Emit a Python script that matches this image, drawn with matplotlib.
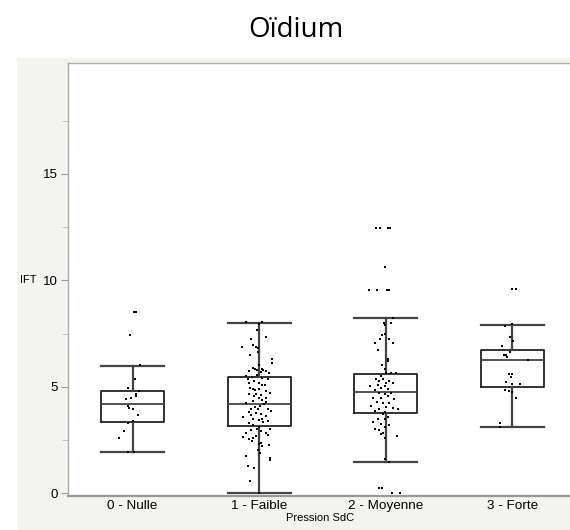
import numpy as np
import matplotlib
matplotlib.use("Agg")
import matplotlib.pyplot as plt
from matplotlib.patches import Rectangle

categories = ["0 - Nulle", "1 - Faible", "2 - Moyenne", "3 - Forte"]

# box statistics: (low whisker, q1, median, q3, high whisker)
box_low = [1.93, 0.0, 1.46, 3.11]
box_q1 = [3.37, 3.16, 3.79, 4.98]
box_med = [4.19, 4.18, 4.77, 6.26]
box_q3 = [4.80, 5.48, 5.59, 6.73]
box_high = [6.00, 8.01, 8.23, 7.90]

# individual IFT values and their horizontal jitter (category units)
nulle_ift = [8.5, 8.5, 7.43, 6.02, 5.35, 4.94, 4.79, 4.69, 4.57, 4.49, 4.41,
             4.1, 4.02, 3.98, 3.68, 3.39, 3.29, 2.94, 2.6, 1.94, 1.94]
nulle_jit = [0.01, 0.03, -0.02, 0.06, 0.02, -0.04, 0.05, 0.03, 0.03, -0.01, -0.05,
             -0.04, -0.03, 0.0, 0.04, 0.0, -0.04, -0.07, -0.11, -0.04, 0.01]

faible_ift = [8.04, 8.04, 7.97, 7.67, 7.23, 7.34, 6.89, 6.97, 6.88, 6.82, 6.63,
              6.52, 6.32, 6.13, 6.05, 5.9, 5.83, 5.86, 5.8, 5.73, 5.7, 5.74,
              5.65, 5.78, 5.52, 5.45, 5.54, 5.42, 5.35, 5.27, 5.16, 5.19, 5.11,
              5.35, 5.11, 4.96, 4.88, 4.85, 4.91, 4.79, 4.73, 4.65, 4.69, 4.6,
              4.57, 4.49, 4.46, 4.38, 4.33, 4.29, 4.23, 4.18, 4.1, 4.06, 3.98,
              3.95, 3.95, 3.87, 3.84, 3.79, 3.69, 3.71, 3.63, 3.6, 3.51, 3.51,
              3.44, 3.4, 3.35, 3.32, 3.2, 3.13, 3.04, 3.04, 2.98, 2.91, 2.85,
              2.82, 2.72, 2.69, 2.66, 2.61, 2.57, 2.45, 2.37, 2.3, 2.27, 2.22,
              2.06, 1.9, 1.75, 1.67, 1.56, 1.31, 1.18, 0.57, 0.0]
faible_jit = [-0.105, 0.026, 0.0, -0.021, -0.066, 0.052, -0.139, -0.045, -0.026,
              -0.01, -0.008, -0.071, 0.105, 0.1, -0.003, -0.052, -0.034, 0.021,
              -0.018, -0.084, 0.013, 0.052, 0.079, 0.034, -0.105, -0.06, -0.021,
              0.026, 0.066, -0.039, -0.084, -0.005, 0.045, -0.092, 0.026, -0.073,
              -0.052, -0.031, 0.0, 0.052, 0.084, -0.079, -0.026, 0.013, -0.039,
              0.052, -0.005, 0.026, -0.052, 0.052, -0.105, 0.039, 0.005, -0.031,
              0.066, -0.066, -0.013, 0.097, -0.084, -0.026, -0.066, 0.013, 0.052,
              -0.126, -0.052, 0.021, -0.005, 0.066, 0.031, -0.079, -0.045, 0.0,
              -0.021, 0.084, -0.066, 0.013, -0.105, 0.052, 0.066, -0.026, -0.126,
              -0.052, -0.084, -0.058, 0.013, -0.005, 0.079, 0.026, -0.013, 0.005,
              -0.105, 0.084, 0.084, -0.092, -0.039, -0.076, -0.005]

moyenne_ift = [12.44, 12.44, 12.44, 12.44, 10.64, 9.54, 9.54, 9.54, 9.54, 8.25,
               7.99, 7.91, 8.02, 7.47, 7.42, 7.23, 7.06, 7.26, 7.07, 6.73, 6.29,
               6.21, 6.04, 5.82, 5.66, 5.51, 5.63, 5.63, 5.35, 5.27, 5.38, 5.19,
               5.3, 5.16, 5.04, 5.11, 4.96, 5.04, 4.91, 4.85, 4.73, 4.73, 4.65,
               4.49, 4.49, 4.57, 4.41, 4.29, 4.23, 4.26, 4.1, 4.07, 3.95, 4.02,
               3.95, 3.87, 3.82, 3.71, 3.6, 3.51, 3.35, 3.48, 3.24, 3.2, 3.04,
               3.13, 2.98, 2.85, 2.69, 2.61, 2.77, 1.6, 1.49, 0.27, 0.27, 0.0, 0.0]
moyenne_jit = [-0.076, -0.045, 0.016, 0.037, -0.01, -0.129, -0.068, 0.01, 0.026,
               0.06, -0.016, -0.005, 0.042, -0.01, -0.029, -0.042, -0.084, 0.029,
               0.055, -0.063, 0.016, 0.021, -0.026, -0.01, 0.003, -0.037, 0.042,
               0.081, -0.076, -0.05, -0.024, 0.003, 0.029, 0.055, -0.121, -0.063,
               -0.037, -0.01, 0.021, -0.089, 0.042, -0.05, -0.01, -0.102, -0.037,
               0.016, 0.068, -0.068, -0.024, 0.029, -0.115, 0.003, -0.05, 0.055,
               0.094, -0.089, -0.01, -0.024, 0.016, -0.063, -0.102, -0.01, -0.037,
               0.029, -0.089, -0.01, -0.05, -0.024, 0.089, -0.01, -0.037, -0.01,
               0.024, -0.05, -0.031, 0.05, 0.115]

forte_ift = [9.58, 9.58, 7.93, 7.85, 7.35, 7.15, 6.9, 6.65, 6.51, 6.48, 6.38,
             6.28, 5.62, 5.62, 5.46, 5.21, 5.15, 5.12, 4.85, 4.8, 4.77, 4.46,
             3.3, 3.13]
forte_jit = [-0.005, 0.03, 0.0, -0.06, -0.02, 0.005, -0.08, -0.02, -0.07, -0.05,
             -0.045, 0.12, -0.03, 0.0, -0.01, -0.05, 0.0, 0.06, -0.06, -0.03, 0.0,
             0.03, -0.1, -0.1]

groups_ift = [nulle_ift, faible_ift, moyenne_ift, forte_ift]
groups_jit = [nulle_jit, faible_jit, moyenne_jit, forte_jit]

bg = "#f4f4ef"
line_col = "#222222"

fig = plt.figure(figsize=(5.7, 5.3), dpi=100)
fig.patch.set_facecolor("white")
fig.patches.append(Rectangle((17 / 570, 0), 1, (530 - 58) / 530,
                             transform=fig.transFigure, facecolor=bg,
                             edgecolor="none", zorder=-10))

ax = fig.add_axes([68 / 570, 34 / 530, 1 - 68 / 570 + 0.01, (496 - 63) / 530])
ax.set_facecolor("white")

stats = []
for i in range(len(categories)):
    stats.append({"whislo": box_low[i], "q1": box_q1[i], "med": box_med[i],
                  "q3": box_q3[i], "whishi": box_high[i], "label": categories[i]})

pos = np.arange(len(categories))
ax.bxp(stats, positions=pos, widths=0.5, capwidths=0.5, showfliers=False,
       boxprops=dict(color=line_col, linewidth=1.3),
       medianprops=dict(color="#444444", linewidth=1.3),
       whiskerprops=dict(color="#444444", linewidth=1.6),
       capprops=dict(color="#444444", linewidth=1.6),
       zorder=2)

for i in range(len(categories)):
    xs = pos[i] + np.array(groups_jit[i])
    ax.scatter(xs, groups_ift[i], s=3.5, marker="s", color="black",
               linewidths=0, zorder=3)

ax.set_xlim(-0.51, 3.5)
ax.set_ylim(-0.12, 20.2)

ax.set_yticks([0, 5, 10, 15])
ax.set_yticks(np.arange(2.5, 20, 5), minor=True)
ax.tick_params(axis="y", which="major", direction="out", length=5,
               color="#999999", labelsize=9.5, pad=2)
ax.tick_params(axis="y", which="minor", direction="out", length=4,
               color="#bbbbbb")
ax.tick_params(axis="x", length=0, labelsize=9.7, pad=3)
ax.set_xticks(pos)
ax.set_xticklabels(categories)
for lab in ax.get_xticklabels() + ax.get_yticklabels():
    lab.set_fontfamily("Liberation Sans")

for side in ["top", "left"]:
    ax.spines[side].set_color("#aaaaaa")
    ax.spines[side].set_linewidth(1.0)
ax.spines["bottom"].set_color("#999999")
ax.spines["bottom"].set_linewidth(1.6)
ax.spines["right"].set_visible(False)

fig.text(296 / 570, 1 - 30 / 530, "Oïdium", ha="center", va="center",
         fontsize=20, family="Open Sans")
fig.text(20 / 570, 1 - 280 / 530, "IFT", ha="left", va="center",
         fontsize=8, family="Liberation Sans")
fig.text(320 / 570, 1 - 518 / 530, "Pression SdC", ha="center", va="center",
         fontsize=8, family="Liberation Sans")

fig.savefig("out.png", dpi=100)
